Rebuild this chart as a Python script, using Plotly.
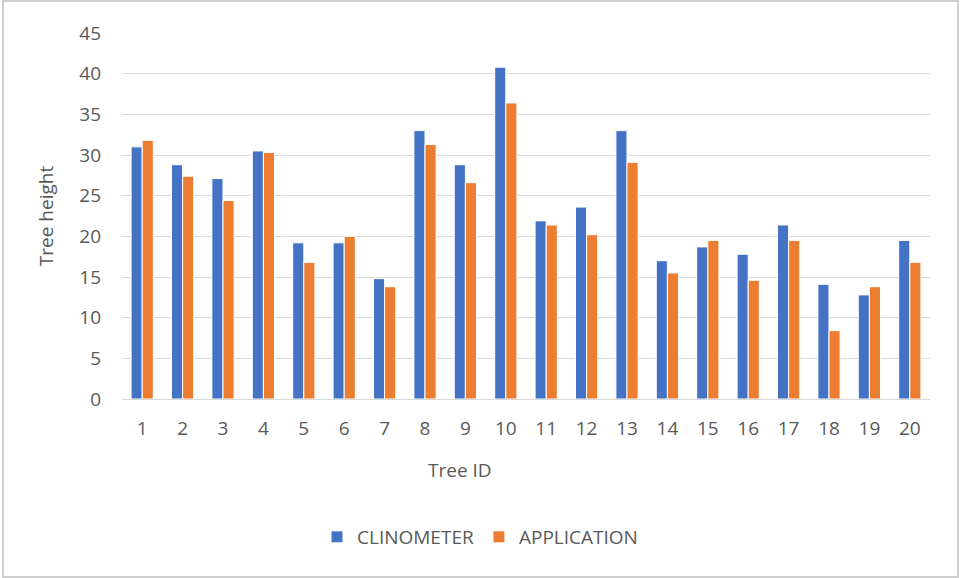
import plotly.graph_objects as go

# Tree heights measured two ways for 20 trees
tree_ids = [str(i) for i in range(1, 21)]
clinometer = [31.0, 28.8, 27.1, 30.5, 19.2, 19.2, 14.8, 33.0, 28.8, 40.8,
              21.9, 23.6, 33.0, 17.0, 18.7, 17.8, 21.4, 14.1, 12.8, 19.5]
application = [31.8, 27.4, 24.4, 30.3, 16.8, 20.0, 13.8, 31.3, 26.6, 36.4,
               21.4, 20.2, 29.1, 15.5, 19.5, 14.6, 19.5, 8.4, 13.8, 16.8]
y_ticks = [0, 5, 10, 15, 20, 25, 30, 35, 40, 45]

W, H = 960, 578
ML, MR, MT, MB = 122, 30, 33, 179
PW, PH = W - ML - MR, H - MT - MB

TEXT = "#595959"
FONT = "Open Sans"
FS = 19

fig = go.Figure()
fig.add_trace(go.Bar(
    name="CLINOMETER", x=tree_ids, y=clinometer,
    marker=dict(color="#4472C4", line=dict(color="white", width=1)),
))
fig.add_trace(go.Bar(
    name="APPLICATION", x=tree_ids, y=application,
    marker=dict(color="#ED7D31", line=dict(color="white", width=1)),
))


def px_to_paper_x(px):
    return (px - ML) / PW


def px_to_paper_y(py):
    return (H - MB - py) / PH


# light frame around the whole chart
fig.add_shape(
    type="rect", xref="paper", yref="paper", layer="below",
    x0=px_to_paper_x(3), x1=px_to_paper_x(958),
    y0=px_to_paper_y(577), y1=px_to_paper_y(1),
    line=dict(color="#cfcfcf", width=2), fillcolor="rgba(0,0,0,0)",
)

# x-axis title placed as free text below the tick labels
fig.add_annotation(
    text="Tree ID", xref="paper", yref="paper",
    x=px_to_paper_x(460), y=px_to_paper_y(470),
    xanchor="center", yanchor="middle", showarrow=False,
    font=dict(size=FS, color=TEXT),
)

fig.update_layout(
    width=W, height=H,
    margin=dict(l=ML, r=MR, t=MT, b=MB),
    paper_bgcolor="white", plot_bgcolor="white",
    barmode="group", bargap=0.45, bargroupgap=0.0,
    font=dict(family=FONT, size=FS, color=TEXT),
    showlegend=True,
    legend=dict(
        orientation="h", x=px_to_paper_x(480), xanchor="center",
        y=px_to_paper_y(537), yanchor="middle",
        font=dict(size=FS, color=TEXT), itemwidth=30,
        traceorder="normal",
    ),
    xaxis=dict(
        type="category", showgrid=False, showline=False, zeroline=False,
        ticks="", ticklabelstandoff=16,
        tickfont=dict(size=FS, color=TEXT),
    ),
    yaxis=dict(
        range=[0, 45], tickmode="array", tickvals=y_ticks,
        showgrid=True, gridcolor="#d9d9d9", gridwidth=1,
        zeroline=True, zerolinecolor="#d9d9d9", zerolinewidth=1,
        showline=False, ticks="", ticklabelstandoff=20,
        tickfont=dict(size=FS, color=TEXT),
        title=dict(text="Tree height", font=dict(size=FS, color=TEXT), standoff=20),
    ),
)

fig.write_html("out.html")
